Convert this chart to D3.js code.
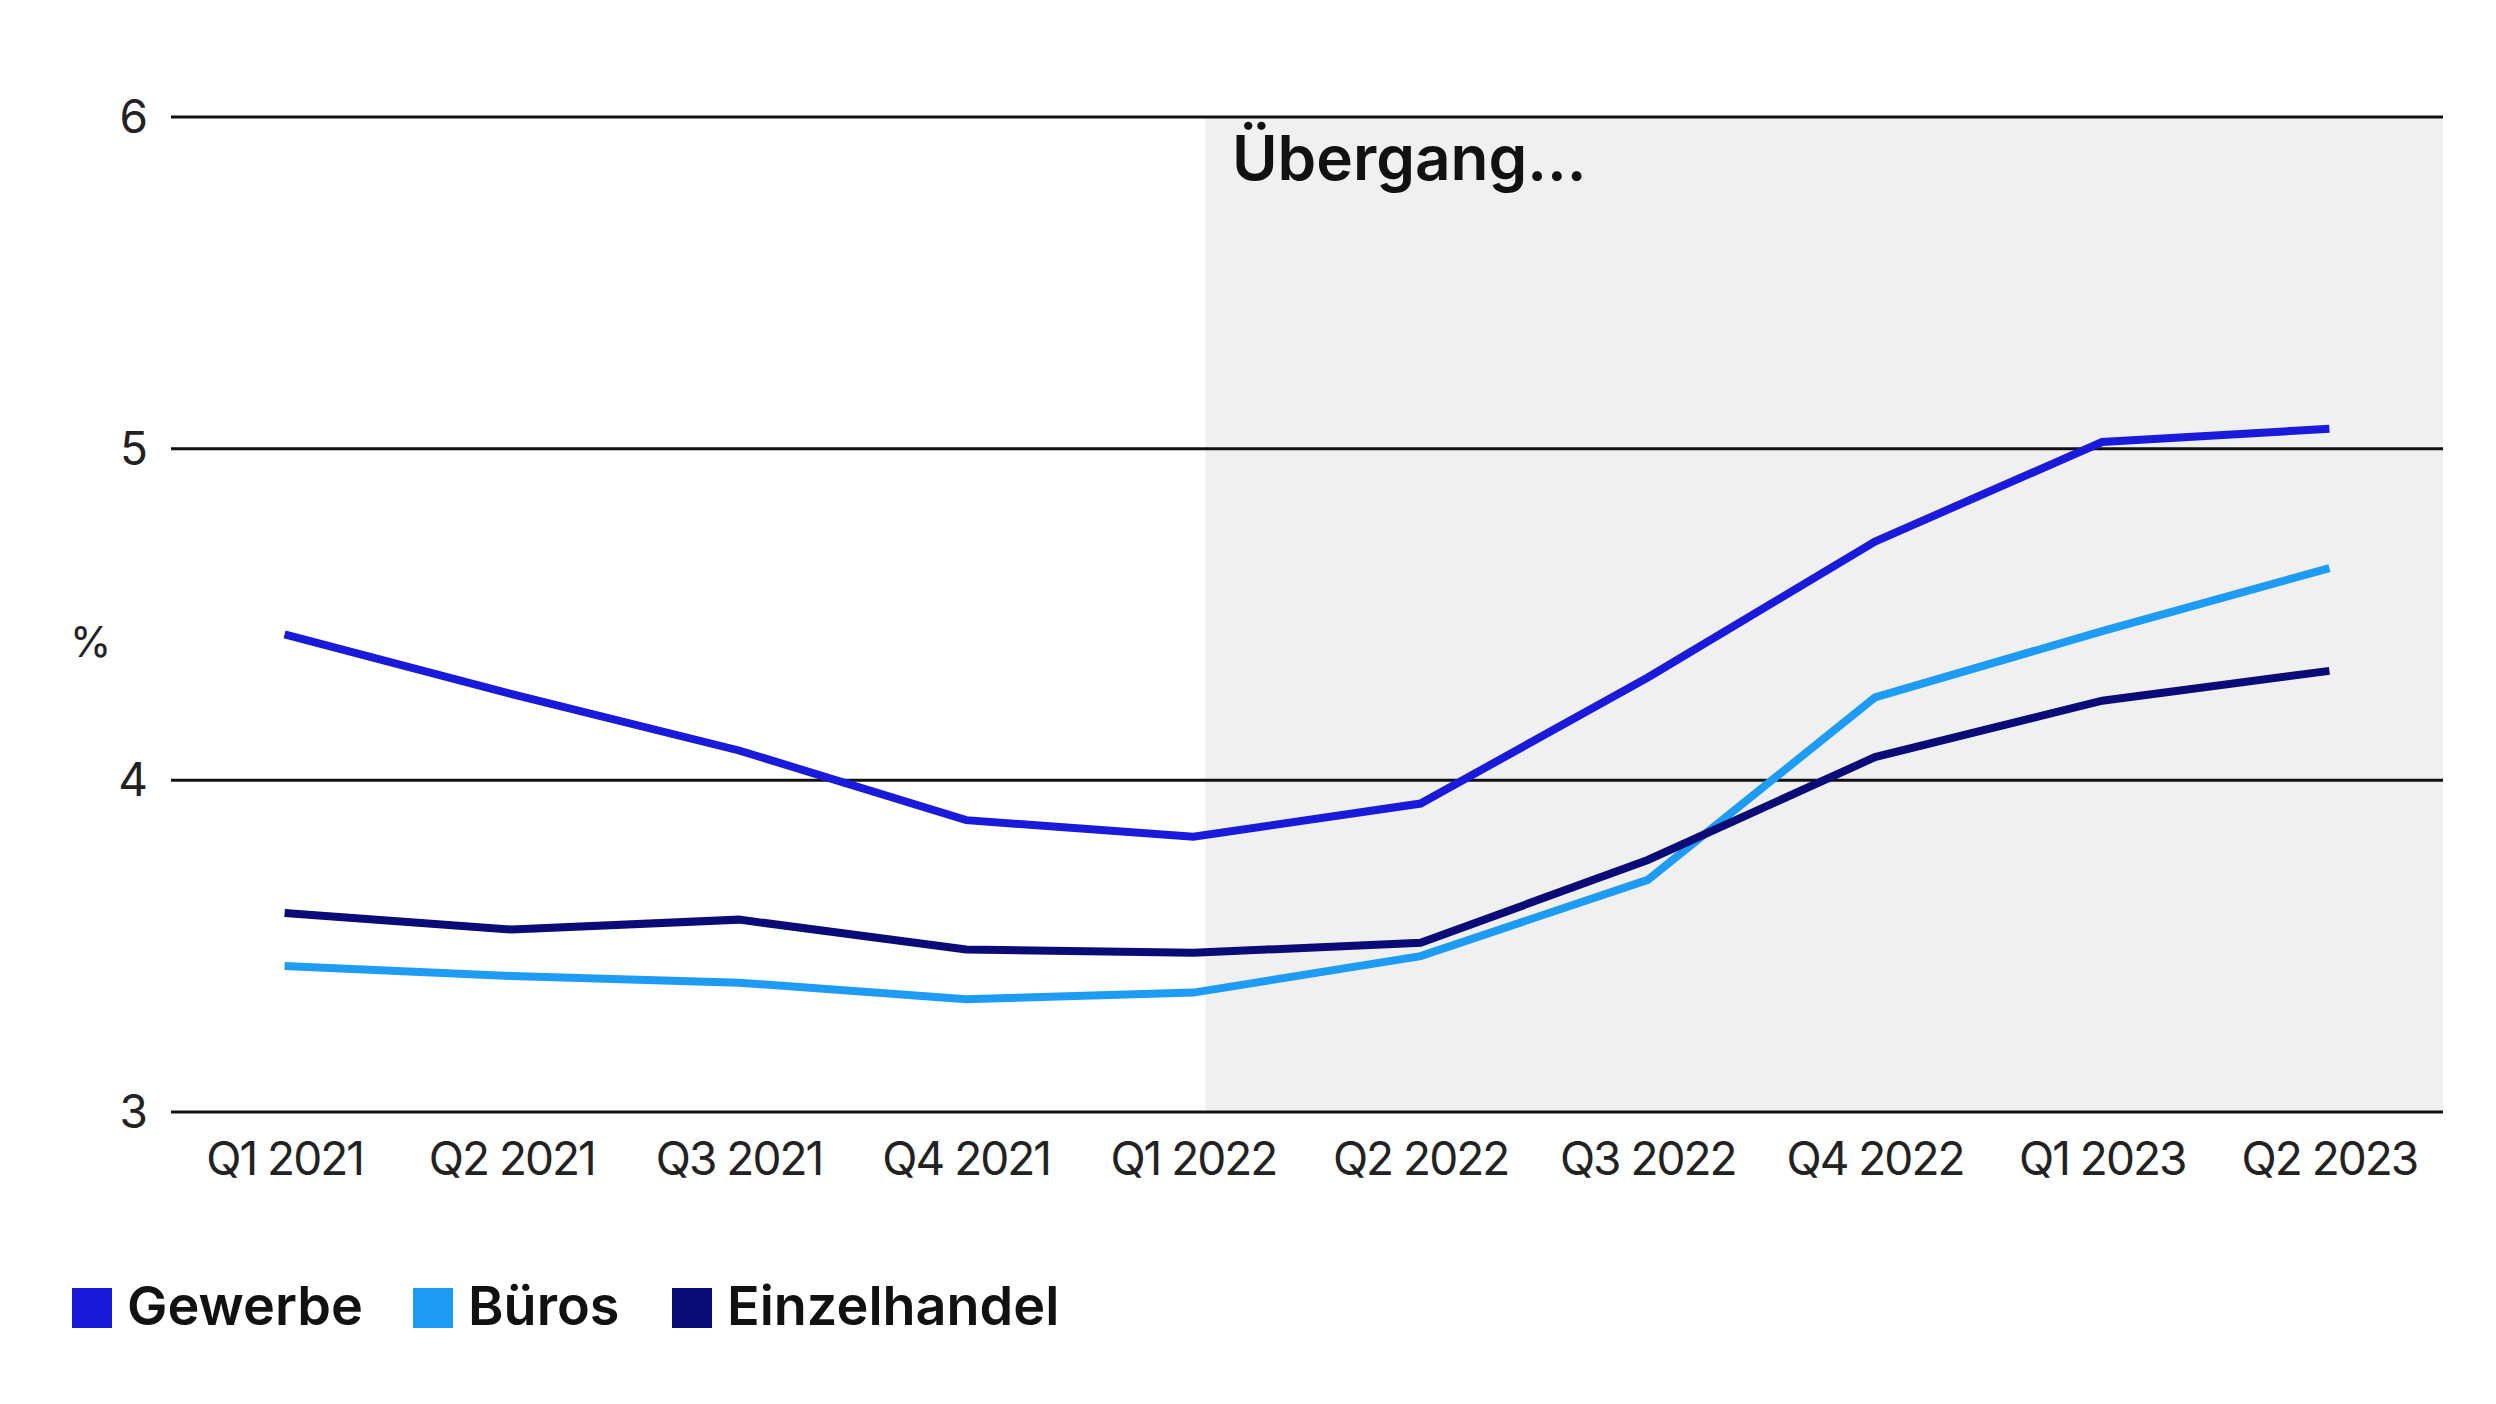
<!DOCTYPE html><html><head><meta charset="utf-8"><script src="https://cdn.jsdelivr.net/npm/d3@7"></script>
<style>body{margin:0;background:#fff}text{font-family:Inter,"Noto Sans",sans-serif}</style></head><body>
<svg id="c" width="2496" height="1404"></svg>
<script>
const categories=["Q1 2021","Q2 2021","Q3 2021","Q4 2021","Q1 2022","Q2 2022","Q3 2022","Q4 2022","Q1 2023","Q2 2023"];
const gewerbe=[4.44,4.26,4.09,3.88,3.83,3.93,4.31,4.72,5.02,5.06];
const bueros=[3.44,3.41,3.39,3.34,3.36,3.47,3.70,4.25,4.45,4.64];
const einzelhandel=[3.60,3.55,3.58,3.49,3.48,3.51,3.76,4.07,4.24,4.33];
const yTicks=[3,4,5,6];
const seriesNames=["Gewerbe","Büros","Einzelhandel"];
const colors=["#1a1adb","#1e9bf2","#0b0b78"];
const svg=d3.select("#c");
const x=d3.scalePoint().domain(categories).range([171,2443]).padding(0.5);
const y=d3.scaleLinear().domain([3,6]).range([1112,117]);
svg.append("rect").attr("x",x("Q1 2022")+12).attr("y",y(6)).attr("width",2443-x("Q1 2022")-12).attr("height",y(3)-y(6)).attr("fill","#f0f0f0");
svg.append("g").selectAll("line").data(yTicks).join("line").attr("x1",171).attr("x2",2443).attr("y1",d=>y(d)).attr("y2",d=>y(d)).attr("stroke","#111").attr("stroke-width",3);
svg.append("g").selectAll("text").data(yTicks).join("text").attr("x",148).attr("y",d=>y(d)+16).attr("text-anchor","end").attr("font-size",46).attr("fill","#222").text(d=>d);
svg.append("text").attr("x",70).attr("y",657).attr("font-size",42).attr("fill","#222").text("%");
svg.append("g").selectAll("text").data(categories).join("text").attr("x",d=>x(d)).attr("y",1175).attr("text-anchor","middle").attr("font-size",46).attr("letter-spacing",-2).attr("fill","#222").text(d=>d);
svg.append("text").attr("x",1232).attr("y",180).attr("font-size",62).attr("font-weight",600).attr("fill","#111").text("Übergang...");
const line=d3.line().x((d,i)=>x(categories[i])).y(d=>y(d));
[gewerbe,bueros,einzelhandel].forEach((s,i)=>svg.append("path").attr("d",line(s)).attr("fill","none").attr("stroke",colors[i]).attr("stroke-width",8));
const lx=[72,413,672];
seriesNames.forEach((n,i)=>{svg.append("rect").attr("x",lx[i]).attr("y",1288).attr("width",40).attr("height",40).attr("fill",colors[i]);
svg.append("text").attr("x",lx[i]+55).attr("y",1325).attr("font-size",54).attr("font-weight",600).attr("fill","#111").text(n);});
</script></body></html>
